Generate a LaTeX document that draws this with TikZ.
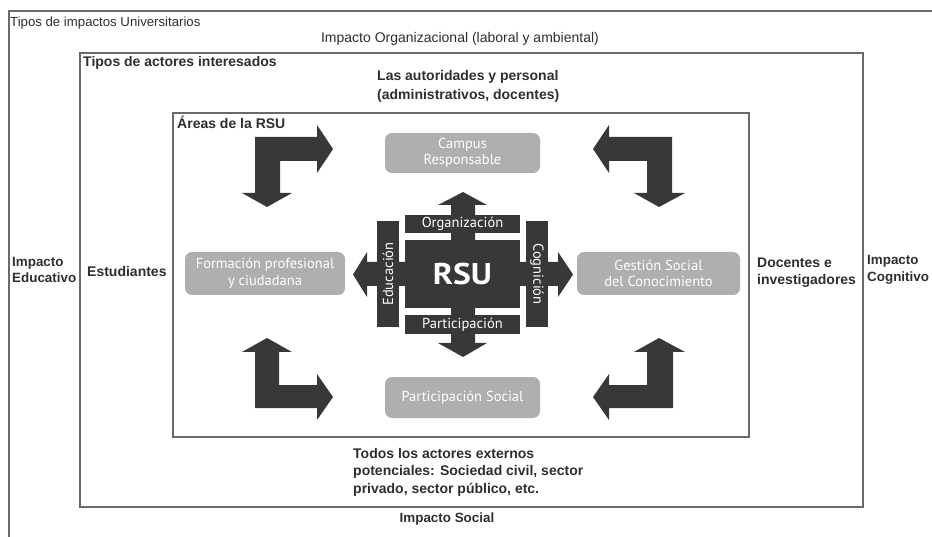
\documentclass[tikz,border=0pt]{standalone}
\usepackage{fontspec}
\setmainfont{Liberation Sans}
\newfontfamily\ptfont{PT Sans}
\definecolor{linegray}{HTML}{6A6A6A}
\definecolor{txt}{HTML}{2E2E2E}
\definecolor{darkfill}{HTML}{383838}
\definecolor{boxgray}{HTML}{AFAFAF}
\tikzset{
  frame/.style={draw=linegray, line width=1.3pt},
  lbl/.style={inner sep=0pt, text=txt, font=\bfseries\fontsize{14}{16}\selectfont},
  lblsm/.style={inner sep=0pt, text=txt, font=\bfseries\fontsize{13.4}{16}\selectfont},
  lblreg/.style={inner sep=0pt, text=txt, font=\fontsize{14}{16}\selectfont},
  area/.style={fill=boxgray, rounded corners=7pt, draw=none},
  areatext/.style={inner sep=0pt, text=white, align=center, font=\ptfont\fontsize{14.5}{16.5}\selectfont},
  darkshape/.style={fill=darkfill, draw=none},
  bandtext/.style={inner sep=0pt, text=white, font=\ptfont\fontsize{14.5}{15}\selectfont}
}
\begin{document}
\begin{tikzpicture}[x=1pt,y=-1pt]
\useasboundingbox (0,0) rectangle (932,537);
% frames
\draw[frame] (932,11) -- (9,11) -- (9,537);
\draw[frame] (80,53) rectangle (863,507);
\draw[frame] (173,113) rectangle (749,437);
% outer texts
\node[lblreg, anchor=base west, font=\fontsize{13.2}{15}\selectfont] (tipimp) at (10,26.5) {Tipos de impactos Universitarios};
\node[lblreg, anchor=base] (iorg) at (460,43) {Impacto Organizacional (laboral y ambiental)};
\node[lbl, anchor=base west] (tipact) at (83,67) {Tipos de actores interesados};
\node[lbl, anchor=base west] (aut1) at (377,81) {Las autoridades y personal};
\node[lbl, anchor=base west] (aut2) at (377,100) {(administrativos, docentes)};
\node[lbl, anchor=base west] (areas) at (177,129) {Áreas de la RSU};
\node[lblsm, anchor=base west] (iedu1) at (12,267) {Impacto};
\node[lblsm, anchor=base west] (iedu2) at (12,283) {Educativo};
\node[lbl, anchor=base west] (est) at (87,277) {Estudiantes};
\node[lbl, anchor=base west] (doc1) at (757,268) {Docentes e};
\node[lbl, anchor=base west] (doc2) at (757,285) {investigadores};
\node[lblsm, anchor=base west] (icog1) at (867,265) {Impacto};
\node[lblsm, anchor=base west] (icog2) at (867,282) {Cognitivo};
\node[lbl, anchor=base west] (tod1) at (353,458) {Todos los actores externos};
\node[lbl, anchor=base west] (tod2) at (353,475.5) {potenciales: Sociedad civil, sector};
\node[lbl, anchor=base west] (tod3) at (353,493) {privado, sector público, etc.};
\node[lblsm, anchor=base] (isoc) at (447,522) {Impacto Social};
% area boxes
\fill[area] (385,133) rectangle (540,173);
\node[areatext] (campus) at (462.5,153) {Campus\\Responsable};
\fill[area] (185,252) rectangle (345,295);
\node[areatext] (form) at (265,273.5) {Formación profesional\\y ciudadana};
\fill[area] (577,252) rectangle (740,295);
\node[areatext] (gest) at (658.5,273.5) {Gestión Social\\del Conocimiento};
\fill[area] (385,377) rectangle (540,418);
\node[areatext] (part) at (462.5,397.5) {Participación Social};
% central RSU block
\fill[darkshape] (405,215) rectangle (520,233);
\fill[darkshape] (405,315) rectangle (520,334);
\fill[darkshape] (377,221) rectangle (399,327);
\fill[darkshape] (526,221) rectangle (548,327);
\fill[darkshape] (405,240) rectangle (520,308);
\fill[darkshape] (463,192) -- (487,205) -- (475,205) -- (475,262) -- (558,262) -- (558,252)
  -- (573,274.5) -- (558,297) -- (558,286) -- (475,286) -- (475,343) -- (487,343)
  -- (463,357) -- (438,343) -- (451,343) -- (451,286) -- (367,286) -- (367,297)
  -- (353,274.5) -- (367,252) -- (367,262) -- (451,262) -- (451,205) -- (438,205) -- cycle;
\node[inner sep=0pt, text=white, xscale=1.12, font=\ptfont\bfseries\fontsize{30}{31}\selectfont] (rsu) at (462.5,274) {RSU};
\node[bandtext] (org) at (462.5,224) {Organización};
\node[bandtext] (parti) at (462.5,324.5) {Participación};
\node[bandtext, rotate=90] (edu) at (388,274) {Educación};
\node[bandtext, rotate=-90] (cog) at (537,274) {Cognición};
% corner L arrows
\fill[darkshape] (255,137) -- (317,137) -- (317,125) -- (333,149) -- (317,173) -- (317,161)
  -- (280,161) -- (280,193) -- (292,193) -- (267,207) -- (242,193) -- (255,193) -- cycle;
\fill[darkshape] (672,137) -- (609,137) -- (609,125) -- (593,149) -- (609,173) -- (609,161)
  -- (647,161) -- (647,193) -- (634,193) -- (659,207) -- (685,193) -- (672,193) -- cycle;
\fill[darkshape] (255,408) -- (255,352) -- (242,352) -- (267,338) -- (292,352) -- (279,352)
  -- (279,385) -- (317,385) -- (317,374) -- (333,397) -- (317,420) -- (317,408) -- cycle;
\fill[darkshape] (673,408) -- (673,352) -- (685,352) -- (659,338) -- (634,352) -- (647,352)
  -- (647,385) -- (609,385) -- (609,374) -- (593,397) -- (609,420) -- (609,408) -- cycle;
\end{tikzpicture}
\end{document}
